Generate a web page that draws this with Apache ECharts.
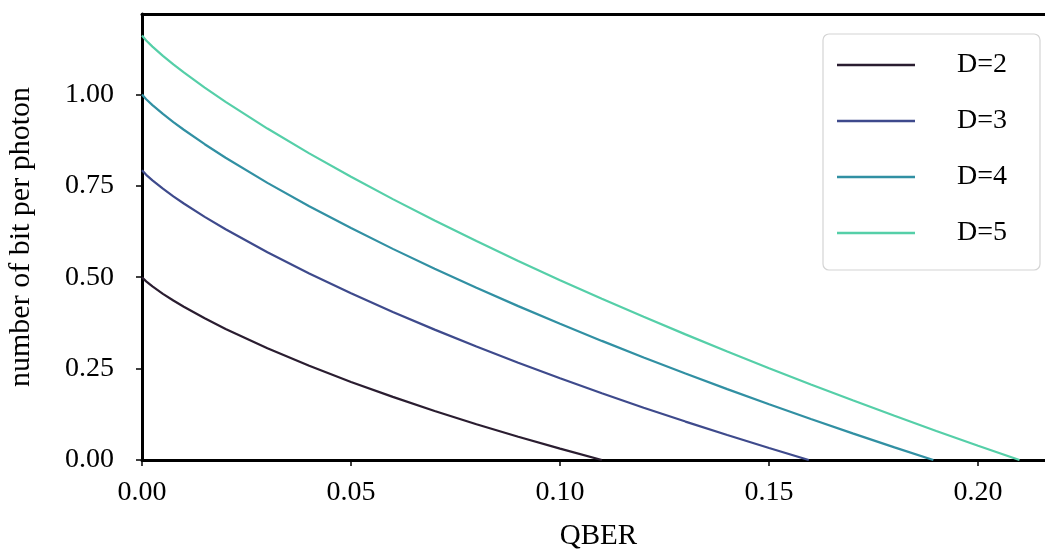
<!DOCTYPE html>
<html>
<head>
<meta charset="utf-8">
<script src="https://cdn.jsdelivr.net/npm/echarts@6/dist/echarts.min.js"></script>
<style>
  html, body { margin: 0; padding: 0; background: #fff; }
  #chart { width: 1045px; height: 550px; }
</style>
</head>
<body>
<div id="chart"></div>
<script>
// ---- data ----
const seriesNames = ['D=2', 'D=3', 'D=4', 'D=5'];
const seriesColors = ['#2a1d30', '#3e4a8c', '#3190a3', '#55cfa8'];

const qberD2 = [0, 0.001, 0.0025, 0.005, 0.0075, 0.01, 0.015, 0.02, 0.03, 0.04, 0.05, 0.06, 0.07, 0.08, 0.09, 0.10, 0.110];
const rateD2 = [0.500, 0.4886, 0.4748, 0.4546, 0.4363, 0.4192, 0.3876, 0.3586, 0.3056, 0.2577, 0.2136, 0.1726, 0.1341, 0.0978, 0.0635, 0.0310, 0.0];

const qberD3 = [0, 0.001, 0.0025, 0.005, 0.0075, 0.01, 0.015, 0.02, 0.03, 0.04, 0.05, 0.06, 0.07, 0.08, 0.09, 0.10, 0.11, 0.12, 0.13, 0.14, 0.15, 0.1595];
const rateD3 = [0.7925, 0.7801, 0.7648, 0.7421, 0.7213, 0.7017, 0.6651, 0.6311, 0.5681, 0.5102, 0.4561, 0.4050, 0.3566, 0.3103, 0.2660, 0.2235, 0.1826, 0.1431, 0.1051, 0.0683, 0.0327, 0.0];

const qberD4 = [0, 0.001, 0.0025, 0.005, 0.0075, 0.01, 0.015, 0.02, 0.03, 0.04, 0.05, 0.06, 0.07, 0.08, 0.09, 0.10, 0.11, 0.12, 0.13, 0.14, 0.15, 0.16, 0.17, 0.18, 0.1893];
const rateD4 = [1.000, 0.9870, 0.9708, 0.9467, 0.9244, 0.9034, 0.8638, 0.8269, 0.7581, 0.6943, 0.6344, 0.5775, 0.5232, 0.4710, 0.4209, 0.3725, 0.3258, 0.2804, 0.2366, 0.1939, 0.1525, 0.1121, 0.0729, 0.0346, 0.0];

const qberD5 = [0, 0.001, 0.0025, 0.005, 0.0075, 0.01, 0.015, 0.02, 0.03, 0.04, 0.05, 0.06, 0.07, 0.08, 0.09, 0.10, 0.11, 0.12, 0.13, 0.14, 0.15, 0.16, 0.17, 0.18, 0.19, 0.20, 0.2099];
const rateD5 = [1.1610, 1.1476, 1.1308, 1.1056, 1.0823, 1.0602, 1.0186, 0.9796, 0.9066, 0.8387, 0.7746, 0.7136, 0.6551, 0.5988, 0.5445, 0.4920, 0.4411, 0.3916, 0.3436, 0.2968, 0.2512, 0.2067, 0.1633, 0.1209, 0.0795, 0.0391, 0.0];

const xTickStep = 0.05;
const yTickStep = 0.25;
const xLimits = [0, 0.2184];
const yLimits = [0, 1.22];
const xAxisTitle = 'QBER';
const yAxisTitle = 'number of bit per photon';

// ---- chart ----
const FONT = '"Liberation Serif", "DejaVu Serif", serif';
const xs = [qberD2, qberD3, qberD4, qberD5];
const ys = [rateD2, rateD3, rateD4, rateD5];

const chart = echarts.init(document.getElementById('chart'), null, { renderer: 'canvas' });

const series = seriesNames.map((name, i) => ({
  name: name,
  type: 'line',
  xAxisIndex: 0,
  yAxisIndex: 0,
  data: xs[i].map((x, j) => [x, ys[i][j]]),
  symbol: 'none',
  smooth: false,
  lineStyle: { color: seriesColors[i], width: 2.2 },
  itemStyle: { color: seriesColors[i] },
  emphasis: { disabled: true },
  silent: true,
  z: 2
}));

chart.setOption({
  animation: false,
  backgroundColor: '#ffffff',
  textStyle: { fontFamily: FONT },
  grid: { left: 142, width: 913, top: 14, bottom: 90, containLabel: false, outerBoundsMode: 'none' },
  xAxis: [{
    type: 'value',
    min: xLimits[0],
    max: xLimits[1],
    interval: xTickStep,
    name: xAxisTitle,
    nameLocation: 'middle',
    nameGap: 62,
    nameTextStyle: { fontFamily: FONT, fontSize: 29, color: '#000' },
    axisLine: { show: true, onZero: false, lineStyle: { color: '#000', width: 3 } },
    axisTick: { show: true, inside: false, length: 6, lineStyle: { color: '#000', width: 1.5 } },
    axisLabel: {
      show: true, margin: 19, fontSize: 28, lineHeight: 28, color: '#000', fontFamily: FONT,
      showMaxLabel: false,
      formatter: v => v.toFixed(2)
    },
    splitLine: { show: false }
  }, {
    type: 'value',
    position: 'top',
    min: xLimits[0],
    max: xLimits[1],
    axisLine: { show: true, onZero: false, lineStyle: { color: '#000', width: 3 } },
    axisTick: { show: false },
    axisLabel: { show: false },
    splitLine: { show: false }
  }],
  yAxis: [{
    type: 'value',
    min: yLimits[0],
    max: yLimits[1],
    interval: yTickStep,
    name: yAxisTitle,
    nameLocation: 'middle',
    nameRotate: 90,
    nameGap: 106,
    nameTextStyle: { fontFamily: FONT, fontSize: 30, color: '#000' },
    axisLine: { show: true, onZero: false, lineStyle: { color: '#000', width: 3 } },
    axisTick: { show: true, inside: false, length: 6, lineStyle: { color: '#000', width: 1.5 } },
    axisLabel: {
      show: true, margin: 28, fontSize: 28, color: '#000', fontFamily: FONT,
      showMaxLabel: false,
      formatter: v => v.toFixed(2)
    },
    splitLine: { show: false }
  }],
  legend: {
    show: true,
    orient: 'vertical',
    left: 823,
    top: 34,
    padding: [17, 33, 23, 14],
    icon: 'rect',
    itemWidth: 78,
    itemHeight: 2.4,
    itemGap: 28,
    backgroundColor: '#ffffff',
    borderColor: '#d4d4d4',
    borderWidth: 1.2,
    borderRadius: 6,
    selectedMode: false,
    textStyle: { fontFamily: FONT, fontSize: 28, lineHeight: 26, color: '#000', padding: [0, 0, 0, 37] },
    data: seriesNames
  },
  series: series
});
</script>
</body>
</html>
